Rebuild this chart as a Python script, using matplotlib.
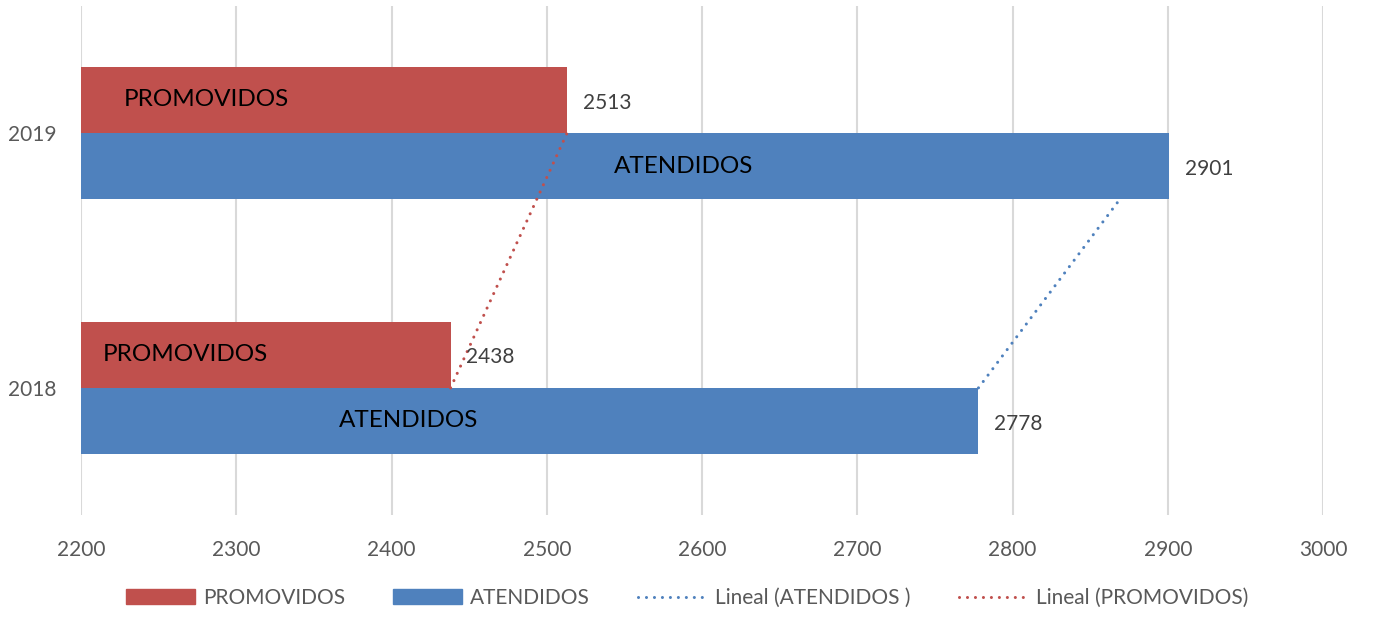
#!/usr/bin/env python3
import matplotlib
matplotlib.use("Agg")
from matplotlib import pyplot as plt
from matplotlib.lines import Line2D
from matplotlib.patches import Patch
import numpy as np

plt.rcParams['font.family'] = ['Lato', 'DejaVu Sans']

years = ['2018', '2019']
atendidos = [2778, 2901]
promovidos = [2438, 2513]
# manually placed text boxes inside the bars (x in data units)
label_x_atend = [2411, 2588]
label_x_promo = [2267, 2281]

red = '#C0504D'
blue = '#4F81BD'

fig = plt.figure(figsize=(13.74, 6.33), dpi=100)
ax = fig.add_axes([0.059, 0.186, 0.904, 0.805])

y = np.arange(len(years))
h = 0.26

ax.barh(y - h / 2, atendidos, height=h, left=0, color=blue, zorder=2)
ax.barh(y + h / 2, promovidos, height=h, left=0, color=red, zorder=2)

# linear trend lines through the category centres
fa = np.polyfit(y, atendidos, 1)
fp = np.polyfit(y, promovidos, 1)
dots = (0, (0.01, 2.6))
ax.plot(np.polyval(fa, y), y, color=blue, lw=2.2, linestyle=dots,
        dash_capstyle='round', zorder=3)
ax.plot(np.polyval(fp, y), y, color=red, lw=2.2, linestyle=dots,
        dash_capstyle='round', zorder=3)

for i in range(len(years)):
    ax.text(atendidos[i] + 10, y[i] - h / 2 - 0.01, str(atendidos[i]), va='center',
            ha='left', fontsize=15, color='#404040', zorder=4)
    ax.text(promovidos[i] + 10, y[i] + h / 2 - 0.01, str(promovidos[i]), va='center',
            ha='left', fontsize=15, color='#404040', zorder=4)
    ax.text(label_x_atend[i], y[i] - h / 2, 'ATENDIDOS', va='center',
            ha='center', fontsize=17.5, color='black', zorder=4)
    ax.text(label_x_promo[i], y[i] + h / 2, 'PROMOVIDOS', va='center',
            ha='center', fontsize=17.5, color='black', zorder=4)

ax.set_xlim(2200, 3000)
ax.set_ylim(-0.5, 1.5)
ax.set_xticks(np.arange(2200, 3001, 100))
ax.set_yticks(y)
ax.set_yticklabels(years)
ax.tick_params(axis='both', length=0, labelsize=15, labelcolor='#595959')
ax.tick_params(axis='x', pad=18)
ax.tick_params(axis='y', pad=18)
ax.grid(axis='x', color='#D9D9D9', lw=1.5, zorder=0)
for s in ax.spines.values():
    s.set_visible(False)

handles = [
    Patch(color=red, label='PROMOVIDOS'),
    Patch(color=blue, label='ATENDIDOS'),
    Line2D([], [], color=blue, lw=2.2, linestyle=dots, dash_capstyle='round',
           label='Lineal (ATENDIDOS )'),
    Line2D([], [], color=red, lw=2.2, linestyle=dots, dash_capstyle='round',
           label='Lineal (PROMOVIDOS)'),
]
leg = fig.legend(handles=handles, loc='center', bbox_to_anchor=(0.5, 1 - 598 / 633),
                 ncol=4, frameon=False, fontsize=15, handlelength=3.3,
                 handleheight=0.7, columnspacing=2.3, handletextpad=0.4)
for t in leg.get_texts():
    t.set_color('#595959')

fig.savefig('out.png', dpi=100)
